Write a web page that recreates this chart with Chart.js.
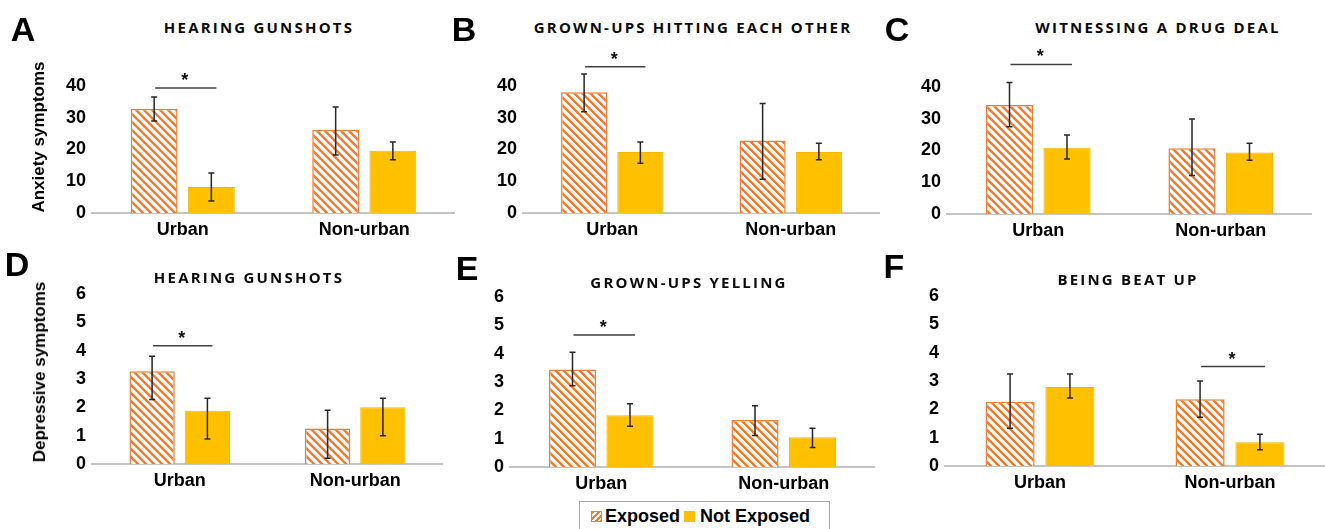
<!DOCTYPE html>
<html>
<head>
<meta charset="utf-8">
<script src="https://cdn.jsdelivr.net/npm/chart.js@4.4.1/dist/chart.umd.min.js"></script>
<style>
  body { margin: 0; background: #fff; width: 1325px; height: 529px; overflow: hidden; position: relative;
         font-family: 'Liberation Sans', Arial, sans-serif; color: #000; }
  canvas { position: absolute; }
  .lbl { position: absolute; transform: translate(-50%, -50%); white-space: nowrap; z-index: 2; }
  .letter { font-weight: bold; font-size: 34px; }
  .title { font-family: 'Open Sans', sans-serif; font-weight: bold; font-size: 15px; letter-spacing: 2.2px; color: #0a0a0a; }
  .ytitle { font-weight: bold; font-size: 17px; transform: translate(-50%, -50%) rotate(-90deg); }
  #legend { position: absolute; left: 579px; top: 501px; width: 251px; box-sizing: border-box;
            border: 1px solid #a6a6a6; display: flex; align-items: center; height: 30px;
            font-weight: bold; font-size: 18px; padding-left: 11px; }
  #legend .sw { display: inline-block; width: 11px; height: 11px; margin-right: 3px; }
  #legend .hatch { background: repeating-linear-gradient(135deg, #ED7D31 0 2px, #fff 2px 4px); border: 1px solid #ED7D31; width: 9px; height: 9px; }
  #legend .gold { background: #FFC000; margin-left: 4px; margin-right: 5px; }
</style>
</head>
<body>
<div id="legend"><span class="sw hatch"></span>Exposed<span class="sw gold"></span>Not Exposed</div>
<script>
const categories = ['Urban', 'Non-urban'];
const seriesNames = ['Exposed', 'Not Exposed'];
const panelLetters = ['A', 'B', 'C', 'D', 'E', 'F'];
const panelTitles = ['HEARING GUNSHOTS', 'GROWN-UPS HITTING EACH OTHER', 'WITNESSING A DRUG DEAL',
                     'HEARING GUNSHOTS', 'GROWN-UPS YELLING', 'BEING BEAT UP'];
const rowTitles = ['Anxiety symptoms', 'Depressive symptoms'];
const anxietyTicks = [0, 10, 20, 30, 40];
const depressiveTicks = [0, 1, 2, 3, 4, 5, 6];

// means and error bars [low, high] per category
const exposedA = [32.8, 26.2];
const exposedErrA = [[29.0, 36.5], [18.3, 33.4]];
const notExposedA = [8.2, 19.6];
const notExposedErrA = [[3.8, 12.6], [16.8, 22.4]];

const exposedB = [38.0, 22.8];
const exposedErrB = [[31.9, 43.8], [10.6, 34.5]];
const notExposedB = [19.2, 19.2];
const notExposedErrB = [[15.7, 22.4], [16.8, 22.0]];

const exposedC = [34.3, 20.7];
const exposedErrC = [[27.5, 41.4], [12.1, 29.9]];
const notExposedC = [20.9, 19.4];
const notExposedErrC = [[17.3, 24.9], [16.9, 22.3]];

const exposedD = [3.27, 1.25];
const exposedErrD = [[2.28, 3.80], [0.20, 1.90]];
const notExposedD = [1.88, 2.0];
const notExposedErrD = [[0.88, 2.32], [1.0, 2.32]];

const exposedE = [3.44, 1.66];
const exposedErrE = [[2.87, 4.05], [1.11, 2.16]];
const notExposedE = [1.83, 1.05];
const notExposedErrE = [[1.44, 2.23], [0.69, 1.37]];

const exposedF = [2.27, 2.36];
const exposedErrF = [[1.33, 3.25], [1.72, 3.0]];
const notExposedF = [2.79, 0.84];
const notExposedErrF = [[2.40, 3.25], [0.57, 1.12]];

// significance line: category index and height (axis units)
const sigCategory = [0, 0, 0, 0, 0, 1];
const sigLevel = [39.4, 46.1, 47.1, 4.17, 4.66, 3.51];

const panels = [
  { exp: exposedA, expErr: exposedErrA, not: notExposedA, notErr: notExposedErrA, ticks: anxietyTicks },
  { exp: exposedB, expErr: exposedErrB, not: notExposedB, notErr: notExposedErrB, ticks: anxietyTicks },
  { exp: exposedC, expErr: exposedErrC, not: notExposedC, notErr: notExposedErrC, ticks: anxietyTicks },
  { exp: exposedD, expErr: exposedErrD, not: notExposedD, notErr: notExposedErrD, ticks: depressiveTicks },
  { exp: exposedE, expErr: exposedErrE, not: notExposedE, notErr: notExposedErrE, ticks: depressiveTicks },
  { exp: exposedF, expErr: exposedErrF, not: notExposedF, notErr: notExposedErrF, ticks: depressiveTicks }
];

// plot areas on the page: left, right, top, bottom
const areas = [
  [92, 455, 86, 213], [523, 880, 86, 213], [947, 1312, 87, 214],
  [92, 443, 294, 464], [510, 875, 297, 467], [945, 1325, 296, 466]
];
const titlePos = [[259, 27], [693, 27], [1158, 27], [249, 277], [689, 282], [1128, 279]];
const letterPos = [[23, 29], [464, 29], [897, 29], [17, 264], [467, 268], [894, 266]];

const Y_W = 60, X_H = 35, PAD_TOP = 40;

function hatchPattern() {
  const c = document.createElement('canvas');
  c.width = 8; c.height = 8;
  const g = c.getContext('2d');
  g.fillStyle = '#fff';
  g.fillRect(0, 0, 8, 8);
  g.strokeStyle = '#ED7D31';
  g.lineWidth = 2.5;
  g.beginPath();
  [-8, 0, 8].forEach(k => { g.moveTo(-1, k - 1); g.lineTo(9, k + 9); });
  g.stroke();
  return g.createPattern(c, 'repeat');
}

const errorBars = {
  id: 'errorBars',
  afterDatasetsDraw(chart) {
    const ctx = chart.ctx;
    const y = chart.scales.y;
    ctx.save();
    ctx.strokeStyle = '#262626';
    ctx.lineWidth = 1.5;
    chart.data.datasets.forEach((ds, i) => {
      chart.getDatasetMeta(i).data.forEach((bar, j) => {
        const lo = y.getPixelForValue(ds.err[j][0]);
        const hi = y.getPixelForValue(ds.err[j][1]);
        ctx.beginPath();
        ctx.moveTo(bar.x, lo); ctx.lineTo(bar.x, hi);
        ctx.moveTo(bar.x - 3, lo); ctx.lineTo(bar.x + 3, lo);
        ctx.moveTo(bar.x - 3, hi); ctx.lineTo(bar.x + 3, hi);
        ctx.stroke();
      });
    });
    ctx.restore();
  }
};

const sigMark = {
  id: 'sigMark',
  afterDatasetsDraw(chart, args, opts) {
    const a = chart.getDatasetMeta(0).data[opts.cat];
    const b = chart.getDatasetMeta(1).data[opts.cat];
    const yy = chart.scales.y.getPixelForValue(opts.level);
    const mid = (a.x + b.x) / 2 + 3;
    const half = (b.x - a.x) / 2 + 2;
    const ctx = chart.ctx;
    ctx.save();
    ctx.strokeStyle = '#404040';
    ctx.lineWidth = 1.5;
    ctx.beginPath();
    ctx.moveTo(mid - half, yy); ctx.lineTo(mid + half, yy);
    ctx.stroke();
    ctx.fillStyle = '#111';
    ctx.font = 'bold 18px "Liberation Sans", Arial';
    ctx.textAlign = 'center';
    ctx.textBaseline = 'alphabetic';
    ctx.fillText('*', mid - 1, yy - 2);
    ctx.restore();
  }
};

function addLabel(cls, text, x, y) {
  const d = document.createElement('div');
  d.className = 'lbl ' + cls;
  d.textContent = text;
  d.style.left = x + 'px';
  d.style.top = y + 'px';
  document.body.appendChild(d);
}

function makePanel(p, idx) {
  const [L, R, T, B] = areas[idx];
  const left = L - Y_W, top = T - PAD_TOP;
  const cv = document.createElement('canvas');
  cv.width = R - left; cv.height = B + X_H - top;
  cv.style.left = left + 'px'; cv.style.top = top + 'px';
  document.body.appendChild(cv);
  const ticks = p.ticks;

  new Chart(cv, {
    type: 'bar',
    data: {
      labels: categories,
      datasets: [
        { label: seriesNames[0], data: p.exp, err: p.expErr, backgroundColor: hatchPattern(),
          borderColor: '#ED7D31', borderWidth: 1.5 },
        { label: seriesNames[1], data: p.not, err: p.notErr, backgroundColor: '#FFC000',
          borderColor: '#F4B400', borderWidth: 1 }
      ]
    },
    options: {
      responsive: false,
      animation: false,
      categoryPercentage: 0.63,
      barPercentage: 0.82,
      layout: { padding: { top: PAD_TOP, left: 0, right: 0, bottom: 0 } },
      scales: {
        x: {
          grid: { display: false, drawTicks: false },
          border: { display: true, color: '#c4c4c4', width: 2 },
          ticks: { color: '#000', padding: 6, font: { size: 18, weight: 'bold', family: '"Liberation Sans", Arial' } },
          afterFit: s => { s.height = X_H; }
        },
        y: {
          min: ticks[0],
          max: ticks[ticks.length - 1],
          grid: { display: false, drawTicks: false },
          border: { display: false },
          ticks: { color: '#000', padding: 6, font: { size: 18, weight: 'bold', family: '"Liberation Sans", Arial' } },
          afterBuildTicks: s => { s.ticks = ticks.map(v => ({ value: v })); },
          afterFit: s => { s.width = Y_W; }
        }
      },
      plugins: {
        legend: { display: false },
        tooltip: { enabled: false },
        sigMark: { cat: sigCategory[idx], level: sigLevel[idx] }
      }
    },
    plugins: [errorBars, sigMark]
  });

  addLabel('title', panelTitles[idx], titlePos[idx][0], titlePos[idx][1]);
  addLabel('letter', panelLetters[idx], letterPos[idx][0], letterPos[idx][1]);
}

panels.forEach(makePanel);
addLabel('ytitle', rowTitles[0], 39, 137);
addLabel('ytitle', rowTitles[1], 40, 372);
</script>
</body>
</html>
